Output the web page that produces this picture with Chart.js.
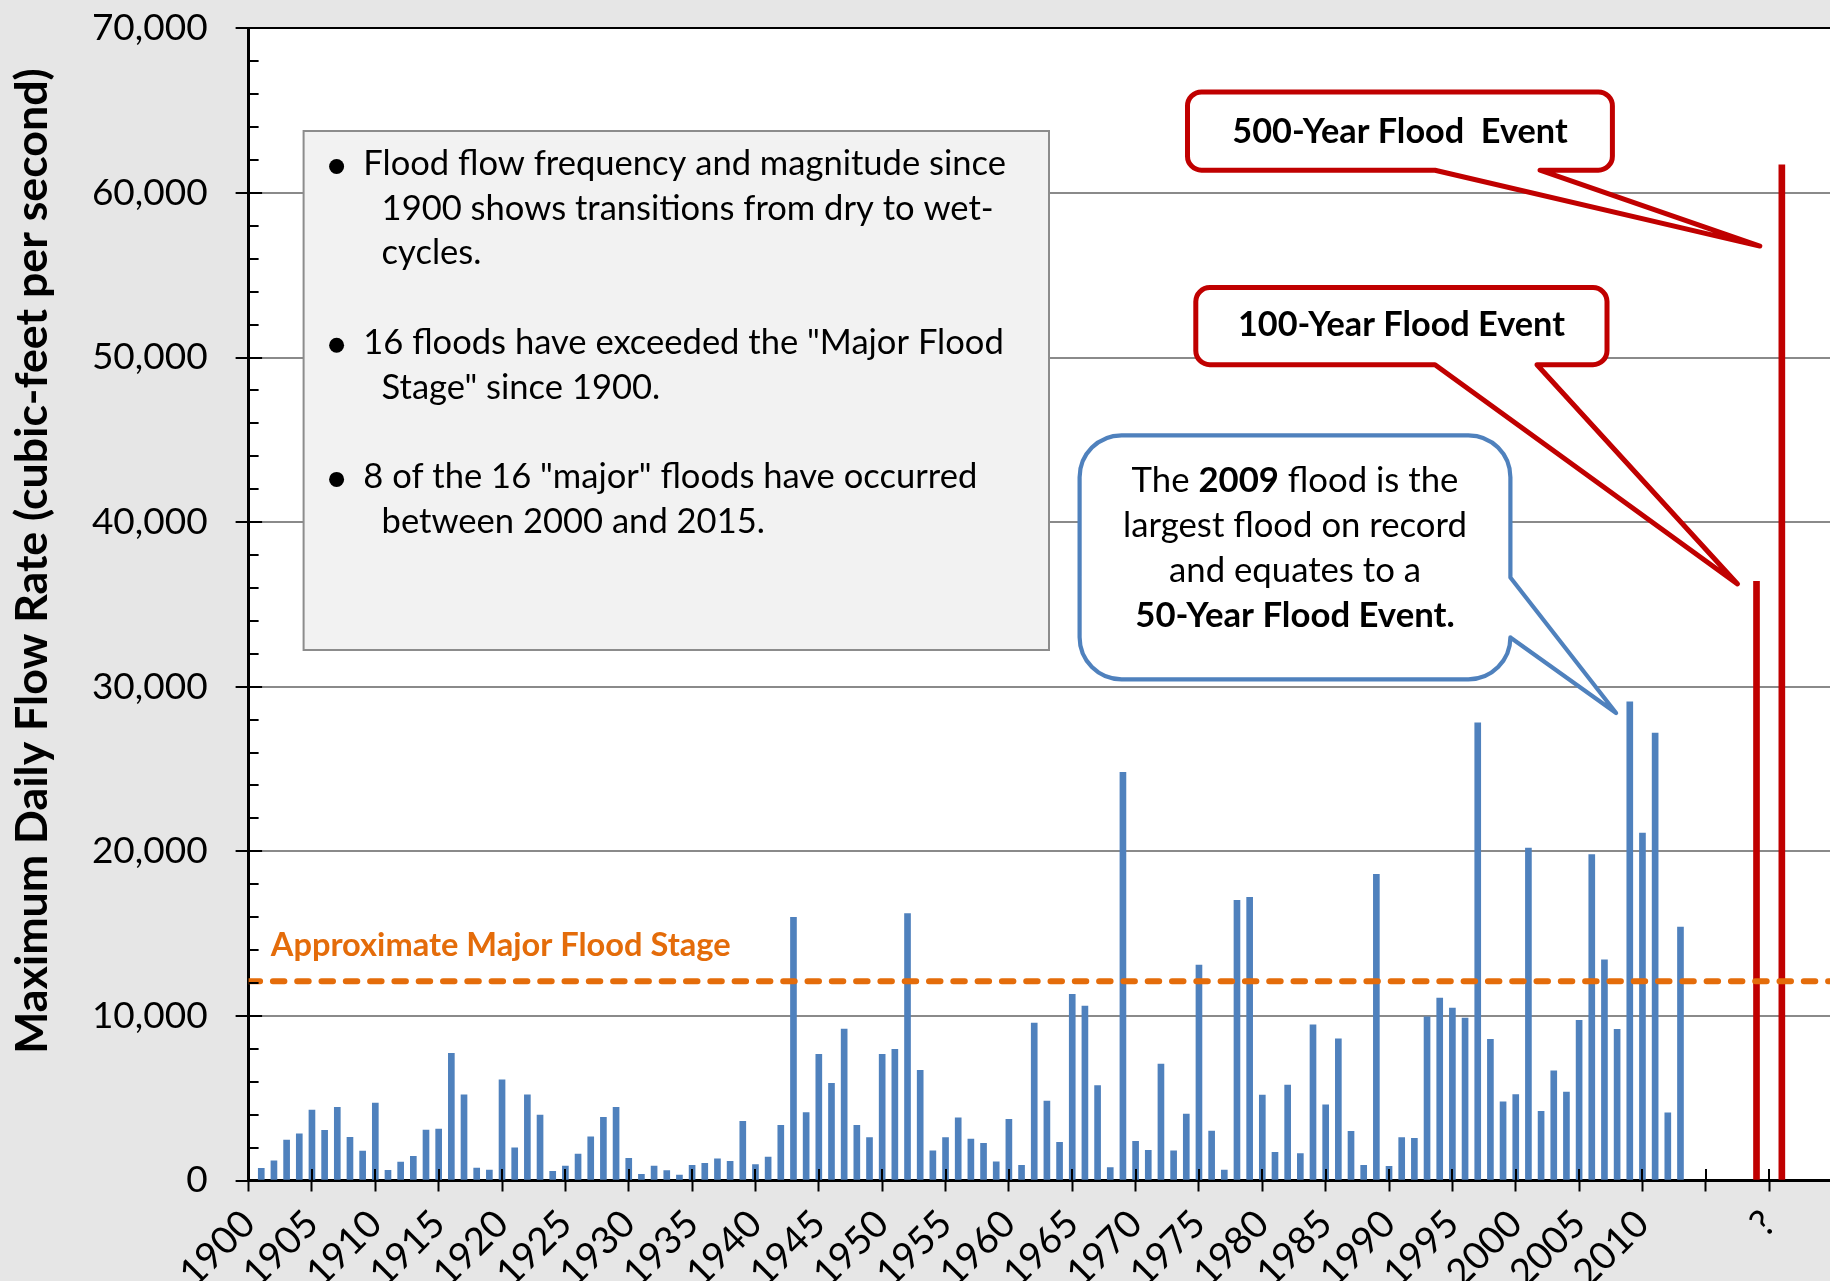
<!DOCTYPE html>
<html>
<head>
<meta charset="utf-8">
<title>Maximum Daily Flow Rate</title>
<script src="https://cdn.jsdelivr.net/npm/chart.js@4.4.1/dist/chart.umd.min.js"></script>
<style>
  html, body { margin: 0; padding: 0; background: #E6E6E6; overflow: hidden; }
  #flowChart { display: block; }
</style>
</head>
<body>
<canvas id="flowChart" width="1830" height="1281"></canvas>
<script>
// yearly peak flow, 1901 - 2013 (cfs)
const firstYear = 1901;
const flowValues = [
  740, 1190, 2460, 2830, 4280, 3050, 4450, 2630, 1790, 4710,
  620, 1120, 1470, 3070, 3130, 7730, 5210, 760, 640, 6120,
  1990, 5210, 3980, 550, 880, 1610, 2660, 3840, 4450, 1350,
  380, 880, 600, 330, 920, 1050, 1310, 1170, 3600, 960,
  1420, 3350, 15990, 4120, 7670, 5900, 9200, 3350, 2600, 7670,
  7970, 16210, 6700, 1810, 2600, 3800, 2520, 2260, 1140, 3720,
  920, 9570, 4830, 2320, 11310, 10600, 5760, 780, 24800, 2380,
  1840, 7080, 1810, 4040, 13090, 3010, 640, 17020, 17200, 5190,
  1710, 5800, 1630, 9450, 4600, 8600, 2990, 920, 18600, 860,
  2600, 2560, 9950, 11090, 10480, 9870, 27800, 8580, 4780, 5220,
  20190, 4200, 6670, 5370, 9730, 19800, 13400, 9190, 29080, 21100,
  27180, 4110, 15400
];
const years = flowValues.map((v, i) => firstYear + i);

// 100-year and 500-year flood events, placed around the "?" tick
const eventYears = [2019, 2021];
const eventFlows = [36400, 61700];

const majorFloodStage = 12100;

// axis
const axisStartYear = 1900;
const axisEndYear = 2024.8;
const yearStep = 5;
const lastLabeledYear = 2010;
const unknownYear = 2020;
const yMax = 70000;
const yStep = 10000;
const yMinorStep = 2000;

const yTitle = 'Maximum Daily Flow Rate (cubic-feet per second)';
const stageLabel = 'Approximate Major Flood Stage';
const noteBullets = [
  ['Flood flow frequency and magnitude since', '1900 shows transitions from dry to wet-', 'cycles.'],
  ['16 floods have exceeded the "Major Flood', 'Stage" since 1900.'],
  ['8 of the 16 "major" floods have occurred', 'between 2000 and 2015.']
];
const calloutLines = [
  [['The ', false], ['2009', true], [' flood is the', false]],
  [['largest flood on record', false]],
  [['and equates to a', false]],
  [['50-Year Flood Event.', true]]
];
const event500Text = '500-Year Flood  Event';
const event100Text = '100-Year Flood Event';

const FONT = 'Lato';
const BLUE = '#4F81BD';
const RED = '#C00000';
const ORANGE = '#E46C0A';

const measureCtx = document.createElement('canvas').getContext('2d');
function fitFontSize(text, weight, targetWidth) {
  measureCtx.font = weight + ' 100px ' + FONT;
  return 100 * targetWidth / measureCtx.measureText(text).width;
}

const noteSize = fitFontSize(noteBullets[0][0], 'normal', 643);
const calloutSize = fitFontSize('largest flood on record', 'normal', 344);
const eventSize = fitFontSize(event100Text, 'bold', 327);
const stageSize = fitFontSize(stageLabel, 'bold', 460);
const titleSize = fitFontSize(yTitle, 'bold', 986);

function bottomCallout(ctx, b, tip) {
  const r = b.radius;
  ctx.beginPath();
  ctx.moveTo(b.left + r, b.top);
  ctx.arcTo(b.right, b.top, b.right, b.bottom, r);
  ctx.arcTo(b.right, b.bottom, b.left, b.bottom, r);
  ctx.lineTo(b.baseRight, b.bottom);
  ctx.lineTo(tip.x, tip.y);
  ctx.lineTo(b.baseLeft, b.bottom);
  ctx.arcTo(b.left, b.bottom, b.left, b.top, r);
  ctx.arcTo(b.left, b.top, b.right, b.top, r);
  ctx.closePath();
}

function rightCallout(ctx, b, tip) {
  const r = b.radius;
  ctx.beginPath();
  ctx.moveTo(b.left + r, b.top);
  ctx.arcTo(b.right, b.top, b.right, b.bottom, r);
  ctx.lineTo(b.right, b.baseTop);
  ctx.lineTo(tip.x, tip.y);
  ctx.lineTo(b.right, b.baseBottom);
  ctx.arcTo(b.right, b.bottom, b.left, b.bottom, r);
  ctx.arcTo(b.left, b.bottom, b.left, b.top, r);
  ctx.arcTo(b.left, b.top, b.right, b.top, r);
  ctx.closePath();
}

const backgroundPlugin = {
  id: 'background',
  beforeDraw(chart) {
    const ctx = chart.ctx;
    const a = chart.chartArea;
    ctx.save();
    ctx.fillStyle = '#E6E6E6';
    ctx.fillRect(0, 0, chart.width, chart.height);
    ctx.fillStyle = '#FFFFFF';
    ctx.fillRect(a.left, a.top, a.right - a.left, a.bottom - a.top);
    ctx.restore();
  }
};

const annotationPlugin = {
  id: 'annotations',
  afterDatasetsDraw(chart) {
    const ctx = chart.ctx;
    const x = chart.scales.x;
    const y = chart.scales.y;
    const a = chart.chartArea;
    ctx.save();

    // tick marks crossing into the plot area
    ctx.strokeStyle = '#000';
    ctx.lineWidth = 2;
    ctx.beginPath();
    for (let v = yMinorStep; v < yMax; v += yMinorStep) {
      const py = Math.round(y.getPixelForValue(v));
      ctx.moveTo(a.left, py);
      ctx.lineTo(a.left + (v % yStep === 0 ? 13.5 : 10), py);
    }
    x.ticks.forEach(t => {
      const px = Math.round(x.getPixelForValue(t.value));
      ctx.moveTo(px, a.bottom);
      ctx.lineTo(px, a.bottom - 11.5);
    });
    ctx.stroke();

    // notes box
    ctx.fillStyle = '#F2F2F2';
    ctx.strokeStyle = '#8C8C8C';
    ctx.lineWidth = 2;
    ctx.fillRect(303.6, 131, 745.4, 519);
    ctx.strokeRect(303.6, 131, 745.4, 519);
    ctx.fillStyle = '#000';
    ctx.font = noteSize + 'px ' + FONT;
    ctx.textAlign = 'left';
    ctx.textBaseline = 'alphabetic';
    let line = 0;
    noteBullets.forEach(group => {
      group.forEach((text, i) => {
        const base = 175 + line * 44.7;
        if (i === 0) {
          ctx.beginPath();
          ctx.arc(336.6, base - 8.5, 7.5, 0, Math.PI * 2);
          ctx.fill();
          ctx.fillText(text, 363.3, base);
        } else {
          ctx.fillText(text, 381.6, base);
        }
        line++;
      });
      line++;
    });

    // 2009 callout
    const blueTip = { x: x.getPixelForValue(2007.92), y: y.getPixelForValue(28400) };
    rightCallout(ctx, { left: 1079.6, top: 435.3, right: 1510.4, bottom: 679.3, radius: 42, baseTop: 577.5, baseBottom: 637.5 }, blueTip);
    ctx.fillStyle = '#FFF';
    ctx.fill();
    ctx.strokeStyle = BLUE;
    ctx.lineWidth = 4.2;
    ctx.lineJoin = 'round';
    ctx.stroke();
    ctx.fillStyle = '#000';
    calloutLines.forEach((segments, i) => {
      let total = 0;
      segments.forEach(([t, bold]) => {
        ctx.font = (bold ? 'bold ' : '') + calloutSize + 'px ' + FONT;
        total += ctx.measureText(t).width;
      });
      let sx = 1295 - total / 2;
      segments.forEach(([t, bold]) => {
        ctx.font = (bold ? 'bold ' : '') + calloutSize + 'px ' + FONT;
        ctx.fillText(t, sx, 491.5 + i * 45);
        sx += ctx.measureText(t).width;
      });
    });

    // flood event callouts
    const tip500 = { x: x.getPixelForValue(2019.26), y: y.getPixelForValue(56770) };
    const tip100 = { x: x.getPixelForValue(2017.5), y: y.getPixelForValue(36240) };
    ctx.strokeStyle = RED;
    ctx.lineWidth = 5;
    bottomCallout(ctx, { left: 1187.5, top: 92, right: 1612.4, bottom: 170.2, radius: 14, baseLeft: 1435, baseRight: 1540 }, tip500);
    ctx.fillStyle = '#FFF';
    ctx.fill();
    ctx.stroke();
    bottomCallout(ctx, { left: 1195.8, top: 287.6, right: 1607, bottom: 364.7, radius: 14, baseLeft: 1435, baseRight: 1537 }, tip100);
    ctx.fill();
    ctx.stroke();
    ctx.fillStyle = '#000';
    ctx.font = 'bold ' + eventSize + 'px ' + FONT;
    ctx.textAlign = 'center';
    ctx.fillText(event500Text, 1400, 142.5);
    ctx.fillText(event100Text, 1401.4, 336.2);

    // flood stage label
    ctx.fillStyle = ORANGE;
    ctx.font = 'bold ' + stageSize + 'px ' + FONT;
    ctx.textAlign = 'left';
    ctx.fillText(stageLabel, 270.8, y.getPixelForValue(majorFloodStage) - 25);

    // y axis title
    ctx.fillStyle = '#000';
    ctx.font = 'bold ' + titleSize + 'px ' + FONT;
    ctx.textAlign = 'center';
    ctx.textBaseline = 'middle';
    ctx.translate(33, 561);
    ctx.rotate(-Math.PI / 2);
    ctx.fillText(yTitle, 0, 0);
    ctx.restore();
  }
};

document.addEventListener('DOMContentLoaded', function () {
  const ctx = document.getElementById('flowChart').getContext('2d');

  new Chart(ctx, {
    type: 'bar',
    data: {
      datasets: [
        {
          type: 'line',
          label: 'Major Flood Stage',
          data: [{ x: axisStartYear, y: majorFloodStage }, { x: axisEndYear, y: majorFloodStage }],
          borderColor: ORANGE,
          borderWidth: 6,
          borderDash: [11.5, 12.8],
          borderCapStyle: 'round',
          pointRadius: 0,
          order: 0
        },
        {
          label: 'Maximum Daily Flow',
          data: years.map((yr, i) => ({ x: yr, y: flowValues[i] })),
          backgroundColor: BLUE,
          order: 1
        },
        {
          label: 'Flood Events',
          data: eventYears.map((yr, i) => ({ x: yr, y: eventFlows[i] })),
          backgroundColor: RED,
          order: 2
        }
      ]
    },
    options: {
      responsive: false,
      animation: false,
      devicePixelRatio: 1,
      layout: { padding: { top: 28.3, left: 0, right: 0, bottom: 0 } },
      datasets: {
        bar: { grouped: false, barThickness: 6, maxBarThickness: 6, borderWidth: 0 }
      },
      plugins: {
        legend: { display: false },
        tooltip: { enabled: false }
      },
      scales: {
        x: {
          type: 'linear',
          min: axisStartYear,
          max: axisEndYear,
          bounds: 'data',
          offset: false,
          grid: { offset: false, drawOnChartArea: false, tickLength: 11, tickWidth: 2, tickColor: '#000' },
          border: { color: '#000', width: 3 },
          ticks: {
            stepSize: yearStep,
            includeBounds: false,
            autoSkip: false,
            minRotation: 45,
            maxRotation: 45,
            padding: 10,
            color: '#000',
            font: { family: FONT, size: 38 },
            callback: v => (v <= lastLabeledYear ? String(v) : (v === unknownYear ? '?' : ''))
          },
          afterFit: s => { s.height = 100.5; s.paddingLeft = 0; s.paddingRight = 0; }
        },
        y: {
          min: 0,
          max: yMax,
          grid: {
            color: c => (c.tick && c.tick.value === yMax ? '#000' : '#8A8A8A'),
            lineWidth: 2,
            tickLength: 13,
            tickWidth: 2,
            tickColor: '#000'
          },
          border: { color: '#000', width: 3 },
          ticks: {
            stepSize: yStep,
            padding: 28,
            color: '#000',
            font: { family: FONT, size: 37 },
            callback: v => v.toLocaleString('en-US')
          },
          afterFit: s => { s.width = 248.6; s.paddingTop = 0; s.paddingBottom = 0; }
        }
      }
    },
    plugins: [backgroundPlugin, annotationPlugin]
  });
});
</script>
</body>
</html>
